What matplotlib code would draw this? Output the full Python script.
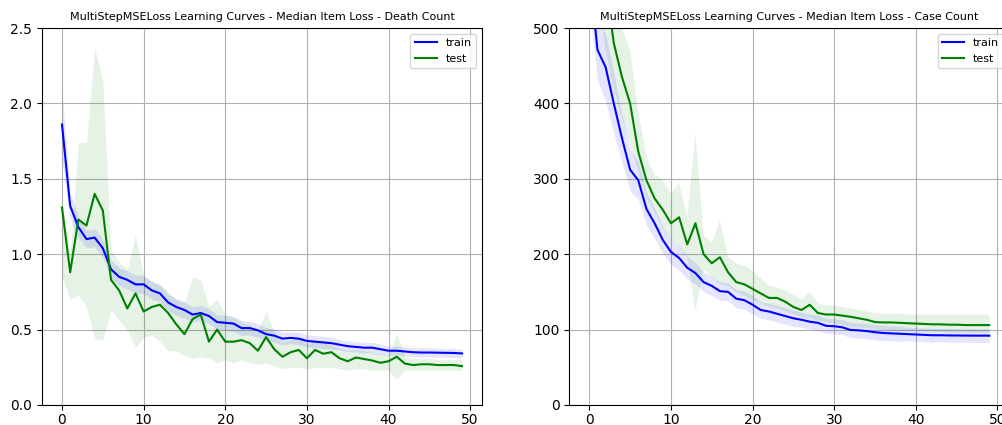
import numpy as np
import matplotlib
matplotlib.use("Agg")
import matplotlib.pyplot as plt

epochs = list(range(50))

# Death Count - median item loss
death_train = [1.86, 1.32, 1.18, 1.10, 1.11, 1.04, 0.90, 0.85, 0.83, 0.80,
               0.80, 0.76, 0.74, 0.68, 0.65, 0.63, 0.60, 0.61, 0.59, 0.55,
               0.545, 0.54, 0.51, 0.51, 0.495, 0.47, 0.46, 0.44, 0.445, 0.44,
               0.425, 0.42, 0.415, 0.41, 0.40, 0.39, 0.385, 0.38, 0.38, 0.37,
               0.36, 0.36, 0.355, 0.35, 0.348, 0.348, 0.347, 0.346, 0.345, 0.342]
death_train_spread = [0.23, 0.09, 0.07, 0.06, 0.06, 0.06, 0.06, 0.06, 0.06, 0.06,
                      0.06, 0.06, 0.055, 0.055, 0.055, 0.055, 0.05, 0.05, 0.05, 0.05,
                      0.05, 0.05, 0.05, 0.045, 0.045, 0.045, 0.045, 0.04, 0.04, 0.04,
                      0.04, 0.04, 0.04, 0.04, 0.035, 0.035, 0.035, 0.035, 0.035, 0.035,
                      0.03, 0.03, 0.03, 0.03, 0.03, 0.03, 0.03, 0.03, 0.03, 0.03]
death_test = [1.31, 0.88, 1.23, 1.19, 1.40, 1.29, 0.83, 0.76, 0.64, 0.74,
              0.62, 0.65, 0.665, 0.61, 0.535, 0.47, 0.57, 0.60, 0.42, 0.50,
              0.42, 0.42, 0.43, 0.41, 0.36, 0.45, 0.37, 0.32, 0.35, 0.365,
              0.31, 0.365, 0.34, 0.35, 0.31, 0.29, 0.315, 0.305, 0.295, 0.28,
              0.29, 0.32, 0.275, 0.265, 0.27, 0.27, 0.265, 0.265, 0.265, 0.258]
death_test_lo = [0.85, 0.70, 0.73, 0.65, 0.44, 0.43, 0.63, 0.56, 0.50, 0.38,
                 0.45, 0.46, 0.42, 0.36, 0.36, 0.33, 0.31, 0.32, 0.31, 0.28,
                 0.30, 0.28, 0.30, 0.28, 0.27, 0.28, 0.26, 0.24, 0.25, 0.25,
                 0.24, 0.25, 0.25, 0.25, 0.24, 0.23, 0.24, 0.24, 0.23, 0.23,
                 0.23, 0.17, 0.23, 0.23, 0.23, 0.23, 0.23, 0.23, 0.23, 0.23]
death_test_hi = [1.35, 1.00, 1.74, 1.74, 2.37, 2.15, 1.03, 0.95, 0.90, 1.13,
                 0.85, 0.82, 0.80, 0.75, 0.70, 0.68, 0.85, 0.83, 0.65, 0.70,
                 0.60, 0.58, 0.55, 0.53, 0.50, 0.62, 0.48, 0.42, 0.43, 0.45,
                 0.40, 0.43, 0.41, 0.40, 0.38, 0.36, 0.37, 0.36, 0.35, 0.34,
                 0.33, 0.48, 0.32, 0.31, 0.31, 0.31, 0.30, 0.30, 0.30, 0.30]

# Case Count - median item loss
case_train = [580, 471, 448, 400, 354, 312, 298, 260, 241, 219,
              203, 195, 182, 175, 163, 158, 151, 150, 141, 139,
              133, 126, 124, 121, 118, 115, 113, 110.5, 109, 105,
              104.5, 103, 99.5, 99, 98, 96.5, 95.5, 95, 94.5, 94,
              93.5, 93, 92.5, 92.5, 92.3, 92.2, 92.1, 92, 92, 92]
case_train_spread = [50, 40, 45, 40, 32, 28, 25, 22, 20, 18,
                     17, 16, 15, 14, 13, 13, 12, 12, 12, 12,
                     12, 11, 11, 11, 11, 11, 10, 10, 10, 10,
                     10, 10, 10, 10, 10, 10, 10, 10, 10, 9,
                     9, 9, 9, 9, 9, 9, 9, 9, 9, 9]
case_test = [650, 600, 560, 480, 435, 400, 336, 298, 274, 259,
             241, 249, 213, 241, 200, 188, 196, 176, 163, 160,
             154, 148, 142, 142, 137, 130, 126, 133, 122, 120,
             120, 118.5, 117, 115, 113, 110, 109.5, 109.5, 109, 108.5,
             108, 107.5, 107, 107, 106.5, 106.5, 106, 106, 106, 106]
case_test_lo = [600, 550, 470, 420, 380, 345, 310, 275, 255, 235,
                220, 210, 195, 124, 180, 170, 160, 158, 150, 145,
                140, 135, 130, 128, 124, 120, 117, 115, 112, 110,
                108, 106, 104, 103, 102, 101, 100, 99, 99, 98,
                98, 97, 97, 97, 96, 96, 96, 96, 96, 96]
case_test_hi = [700, 650, 600, 540, 500, 470, 390, 330, 305, 298,
                280, 295, 248, 360, 225, 215, 245, 196, 188, 185,
                178, 168, 158, 156, 152, 146, 140, 150, 135, 132,
                132, 130, 128, 126, 124, 122, 121, 121, 121, 120,
                120, 120, 120, 120, 120, 120, 120, 120, 120, 120]


def draw(ax, train, spread, test, test_lo, test_hi, title, ylim, yticks):
    train = np.array(train)
    spread = np.array(spread)
    ax.fill_between(epochs, train - spread, train + spread, color="blue", alpha=0.1, linewidth=0)
    ax.fill_between(epochs, test_lo, test_hi, color="green", alpha=0.1, linewidth=0)
    ax.plot(epochs, train, color="blue", lw=1.5, label="train")
    ax.plot(epochs, test, color="green", lw=1.5, label="test")
    ax.set_title(title, fontsize=8)
    ax.set_ylim(*ylim)
    ax.set_yticks(yticks)
    ax.set_xticks([0, 10, 20, 30, 40, 50])
    ax.grid(True, color="#b0b0b0", linewidth=0.8)
    ax.set_axisbelow(True)
    ax.tick_params(labelsize=10)
    ax.tick_params(axis="x", pad=2)
    ax.legend(loc="upper right", fontsize=8)


fig = plt.figure(figsize=(10.03, 4.25), dpi=100)
ax1 = fig.add_axes([42 / 1003, 20 / 425, 440 / 1003, 377 / 425])
ax2 = fig.add_axes([569.3 / 1003, 20 / 425, 440 / 1003, 377 / 425])

draw(ax1, death_train, death_train_spread, death_test, death_test_lo, death_test_hi,
     "MultiStepMSELoss Learning Curves - Median Item Loss - Death Count",
     (0, 2.5), [0.0, 0.5, 1.0, 1.5, 2.0, 2.5])
ax1.set_yticklabels(["0.0", "0.5", "1.0", "1.5", "2.0", "2.5"])
draw(ax2, case_train, case_train_spread, case_test, case_test_lo, case_test_hi,
     "MultiStepMSELoss Learning Curves - Median Item Loss - Case Count",
     (0, 500), [0, 100, 200, 300, 400, 500])

fig.savefig("out.png", dpi=100)
